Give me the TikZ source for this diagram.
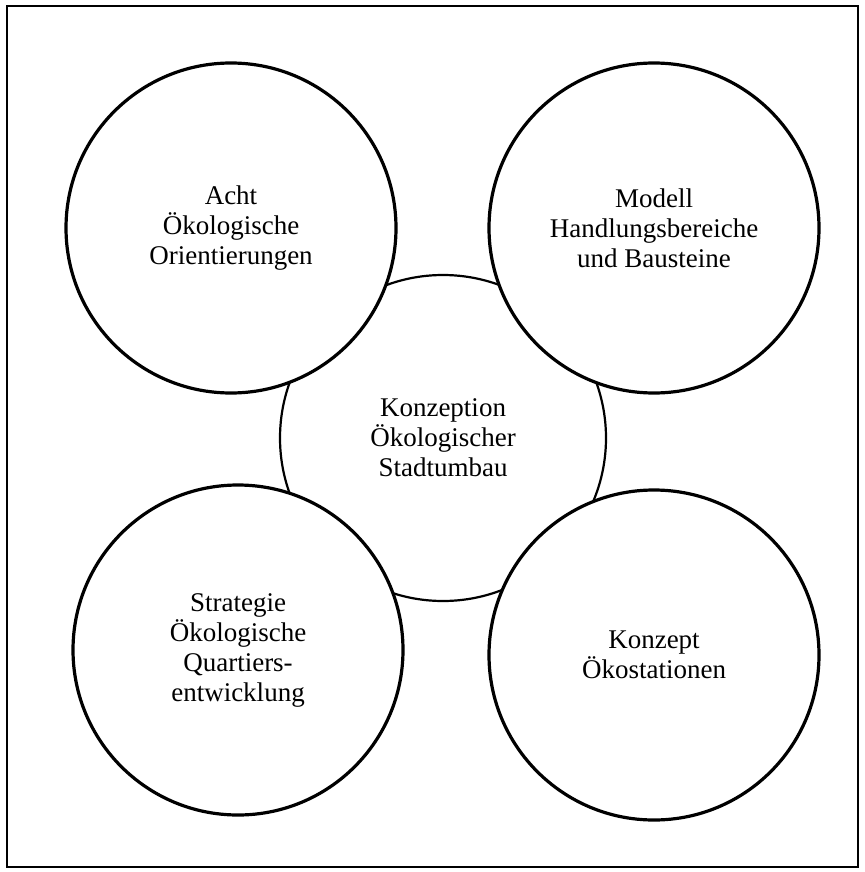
\documentclass[tikz,border=0pt]{standalone}
\usepackage{fontspec}
\setmainfont{Liberation Serif}
\begin{document}
\begin{tikzpicture}[x=1pt, y=-1pt, every node/.style={font=\fontsize{27}{30}\selectfont, align=center}]
	\tikzset{big/.style={circle, draw, line width=3.2pt, fill=white, minimum size=330pt, inner sep=0pt},
		hub/.style={circle, draw, line width=2.2pt, minimum size=326pt, inner sep=0pt}}
	\useasboundingbox (0,0) rectangle (864,872);
	\draw[line width=2.4pt] (7,6) rectangle (858,867);
	\node[hub] (konzeption) at (443,438) {Konzeption\\Ökologischer\\Stadtumbau};
	\node[big] (acht) at (231,228) {Acht\\Ökologische\\Orientierungen};
	\node[big] (modell) at (654,228) {Modell\\Handlungsbereiche\\und Bausteine};
	\node[big] (strategie) at (238,650) {Strategie\\Ökologische\\Quartiers-\\entwicklung};
	\node[big] (konzept) at (654,655) {Konzept\\Ökostationen};
\end{tikzpicture}
\end{document}
